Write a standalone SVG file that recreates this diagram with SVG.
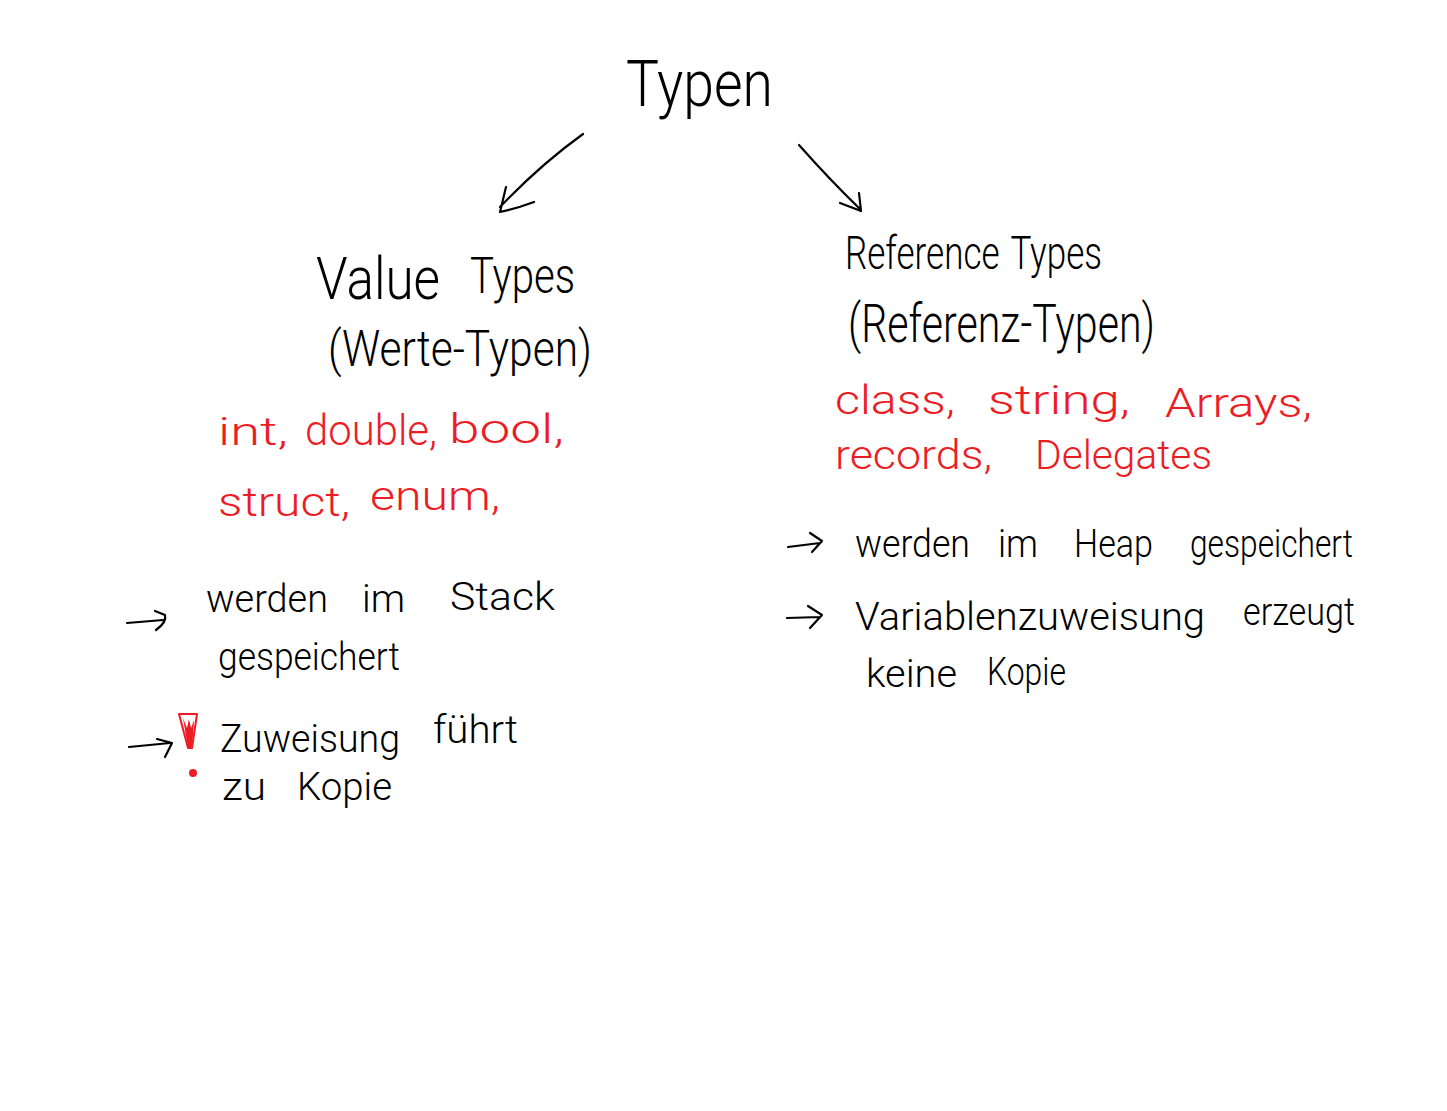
<svg xmlns="http://www.w3.org/2000/svg" width="1447" height="1111" viewBox="0 0 1447 1111">
<style>
text{font-family:Roboto,"Liberation Sans",sans-serif;font-weight:300;fill:#000}
.r{fill:#ed1c24}
.c{fill:none;stroke:#000;stroke-width:2.2;stroke-linecap:round;stroke-linejoin:round}
.m{fill:none;stroke:#ed1c24;stroke-width:2;stroke-linejoin:round}
</style>
<rect width="1447" height="1111" fill="#fff"/>
<g id="connectors">
<path class="c" d="M583 134Q540 165 500 207M506 187L500 212Q515 209 534 202"/>
<path class="c" d="M799 145Q830 180 860 209M840 203L861 211L859 193"/>
<path class="c" d="M127 623L163 620M155 611L165 615Q167 622 156 630"/>
<path class="c" d="M129 747L170 743M157 739L172 743L165 757"/>
<path class="c" d="M788 547L820 543M810 533L822 541L812 552"/>
<path class="c" d="M787 618L820 617M808 606L822 615L810 628"/>
</g>
<g id="root"><text x="626" y="106" font-size="64" textLength="147" lengthAdjust="spacingAndGlyphs">Typen</text></g>
<g id="value-types">
<text font-size="60"><tspan x="316" y="299" textLength="124" lengthAdjust="spacingAndGlyphs">Value</tspan> <tspan x="470" y="293" font-size="50" textLength="105" lengthAdjust="spacingAndGlyphs">Types</tspan></text>
<text x="328" y="366" font-size="50" textLength="264" lengthAdjust="spacingAndGlyphs">(Werte-Typen)</text>
</g>
<g id="value-examples">
<text class="r" font-size="42"><tspan x="218" y="445" font-size="38" textLength="70" lengthAdjust="spacingAndGlyphs">int,</tspan> <tspan x="305" y="445" textLength="132" lengthAdjust="spacingAndGlyphs">double,</tspan> <tspan x="449" y="443" font-size="40" textLength="115" lengthAdjust="spacingAndGlyphs">bool,</tspan></text>
<text class="r" font-size="40"><tspan x="218" y="516" textLength="132" lengthAdjust="spacingAndGlyphs">struct,</tspan> <tspan x="370" y="510" textLength="130" lengthAdjust="spacingAndGlyphs">enum,</tspan></text>
</g>
<g id="value-notes">
<text font-size="38"><tspan x="206" y="612" textLength="122" lengthAdjust="spacingAndGlyphs">werden</tspan> <tspan x="362" y="612" textLength="43" lengthAdjust="spacingAndGlyphs">im</tspan> <tspan x="450" y="610" textLength="105" lengthAdjust="spacingAndGlyphs">Stack</tspan></text>
<text x="218" y="670" font-size="38" textLength="182" lengthAdjust="spacingAndGlyphs">gespeichert</text>
<text font-size="38"><tspan x="220" y="752" textLength="180" lengthAdjust="spacingAndGlyphs">Zuweisung</tspan> <tspan x="433" y="743" textLength="85" lengthAdjust="spacingAndGlyphs">führt</tspan></text>
<text font-size="38"><tspan x="222" y="800" textLength="44" lengthAdjust="spacingAndGlyphs">zu</tspan> <tspan x="297" y="800" textLength="95" lengthAdjust="spacingAndGlyphs">Kopie</tspan></text>
</g>
<g id="warning">
<path class="m" d="M179 714H197L192 748H188Z"/>
<path d="M183 718L188 748H192L194 720L191 728L189 719L187 728Z" fill="#ed1c24"/>
<circle cx="193" cy="773" r="4" fill="#ed1c24"/>
</g>
<g id="reference-types">
<text x="845" y="269" font-size="46" style="word-spacing:4px" textLength="257" lengthAdjust="spacingAndGlyphs">Reference Types</text>
<text x="848" y="342" font-size="54" textLength="307" lengthAdjust="spacingAndGlyphs">(Referenz-Typen)</text>
</g>
<g id="reference-examples">
<text class="r" font-size="40"><tspan x="835" y="414" textLength="120" lengthAdjust="spacingAndGlyphs">class,</tspan> <tspan x="988" y="414" textLength="142" lengthAdjust="spacingAndGlyphs">string,</tspan> <tspan x="1165" y="417" textLength="147" lengthAdjust="spacingAndGlyphs">Arrays,</tspan></text>
<text class="r" font-size="40"><tspan x="835" y="469" textLength="157" lengthAdjust="spacingAndGlyphs">records,</tspan> <tspan x="1035" y="469" textLength="177" lengthAdjust="spacingAndGlyphs">Delegates</tspan></text>
</g>
<g id="reference-notes">
<text font-size="38"><tspan x="855" y="557" textLength="115" lengthAdjust="spacingAndGlyphs">werden</tspan> <tspan x="998" y="557" textLength="40" lengthAdjust="spacingAndGlyphs">im</tspan> <tspan x="1074" y="557" textLength="79" lengthAdjust="spacingAndGlyphs">Heap</tspan> <tspan x="1190" y="557" textLength="163" lengthAdjust="spacingAndGlyphs">gespeichert</tspan></text>
<text font-size="38"><tspan x="855" y="630" textLength="350" lengthAdjust="spacingAndGlyphs">Variablenzuweisung</tspan> <tspan x="1243" y="625" textLength="112" lengthAdjust="spacingAndGlyphs">erzeugt</tspan></text>
<text font-size="38"><tspan x="866" y="687" textLength="91" lengthAdjust="spacingAndGlyphs">keine</tspan> <tspan x="987" y="685" textLength="79" lengthAdjust="spacingAndGlyphs">Kopie</tspan></text>
</g>
</svg>
